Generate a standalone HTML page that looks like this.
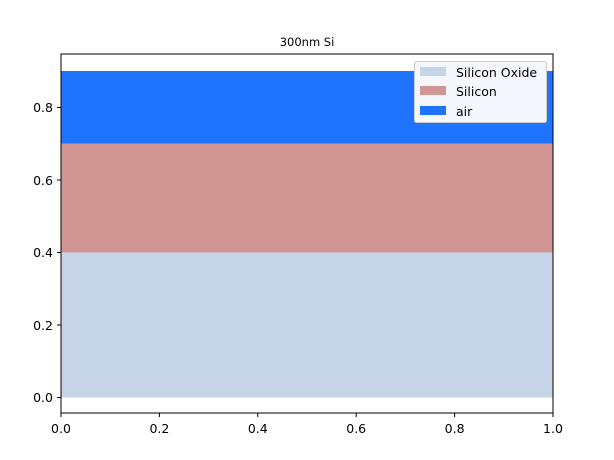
<!DOCTYPE html>
<html><head><style>body{margin:0;background:#fff}svg{display:block}text{font-family:"DejaVu Sans","Liberation Sans",sans-serif;font-size:12.5px;fill:#000}</style></head>
<body>
<svg width="614" height="460" xmlns="http://www.w3.org/2000/svg">
<rect width="614" height="460" fill="#fff"/>
<rect x="61" y="71" width="492" height="72.5" fill="#1f74ff"/>
<rect x="61" y="143.5" width="492" height="109" fill="#d19594"/>
<rect x="61" y="252.5" width="492" height="145" fill="#c6d4e7"/>
<rect x="61" y="54" width="492" height="359" fill="none" stroke="#000" stroke-width="1"/>
<g stroke="#000">
<line x1="57" y1="397.5" x2="61" y2="397.5"/>
<line x1="57" y1="325" x2="61" y2="325"/>
<line x1="57" y1="252.5" x2="61" y2="252.5"/>
<line x1="57" y1="180" x2="61" y2="180"/>
<line x1="57" y1="107.5" x2="61" y2="107.5"/>
<line x1="61" y1="413" x2="61" y2="417"/>
<line x1="159.4" y1="413" x2="159.4" y2="417"/>
<line x1="257.8" y1="413" x2="257.8" y2="417"/>
<line x1="356.2" y1="413" x2="356.2" y2="417"/>
<line x1="454.6" y1="413" x2="454.6" y2="417"/>
<line x1="553" y1="413" x2="553" y2="417"/>
</g>
<g text-anchor="end">
<text x="53" y="402">0.0</text><text x="53" y="330">0.2</text><text x="53" y="257">0.4</text><text x="53" y="185">0.6</text><text x="53" y="112">0.8</text>
</g>
<g text-anchor="middle">
<text x="61" y="433">0.0</text><text x="159.4" y="433">0.2</text><text x="257.8" y="433">0.4</text><text x="356.2" y="433">0.6</text><text x="454.6" y="433">0.8</text><text x="553" y="433">1.0</text>
<text x="307" y="46" style="font-size:11.5px">300nm Si</text>
</g>
<rect x="414.5" y="61.5" width="132" height="61" rx="2" fill="#f4f7fe" stroke="#ccc"/>
<rect x="420" y="67" width="26" height="9" fill="#c6d4e7"/>
<rect x="420" y="86" width="26" height="9" fill="#d19594"/>
<rect x="420" y="106" width="26" height="9" fill="#1f74ff"/>
<text x="456" y="77">Silicon Oxide</text>
<text x="456" y="96">Silicon</text>
<text x="456" y="116">air</text>
</svg>
</body></html>
